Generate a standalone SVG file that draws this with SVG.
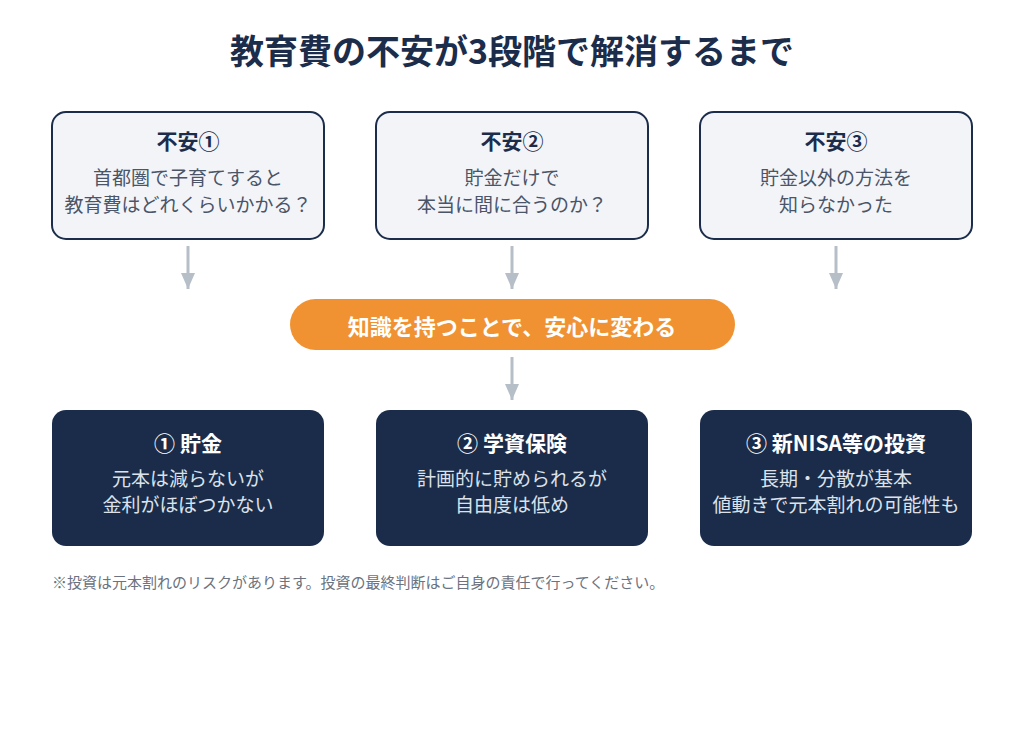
<svg xmlns="http://www.w3.org/2000/svg" width="1024" height="734" viewBox="0 0 1024 734">
<defs>
<style>
text{font-family:"Noto Sans CJK JP","Noto Sans",sans-serif;text-anchor:middle}
.title{font-size:34px;font-weight:700;fill:#1b2d4a}
.q{fill:#f3f4f8;stroke:#1b2d4a;stroke-width:2}
.qh{font-size:21px;font-weight:700;fill:#1b2d4a}
.qt{font-size:19px;fill:#4a5568}
.a{fill:#1a2c4a}
.ah{font-size:21px;font-weight:700;fill:#ffffff}
.at{font-size:19px;fill:#dde2ea}
.conn{stroke:#b6bec8;stroke-width:3;fill:none}
.note{font-size:15px;fill:#6b7280;text-anchor:start}
</style>
<marker id="ah" viewBox="0 0 16 14" refX="16" refY="7" markerWidth="16" markerHeight="14" markerUnits="userSpaceOnUse" orient="auto">
<path d="M0,0 L16,7 L0,14 z" fill="#b6bec8"/>
</marker>
</defs>
<rect width="1024" height="734" fill="#ffffff"/>
<text class="title" x="512" y="64">教育費の不安が3段階で解消するまで</text>

<g id="q1"><rect class="q" x="52" y="112" width="272" height="127" rx="14"/>
<text class="qh" x="188" y="149">不安①</text>
<text class="qt" x="188" y="185">首都圏で子育てすると<tspan x="188" dy="27">教育費はどれくらいかかる？</tspan></text></g>
<g id="q2"><rect class="q" x="376" y="112" width="272" height="127" rx="14"/>
<text class="qh" x="512" y="149">不安②</text>
<text class="qt" x="512" y="185">貯金だけで<tspan x="512" dy="27">本当に間に合うのか？</tspan></text></g>
<g id="q3"><rect class="q" x="700" y="112" width="272" height="127" rx="14"/>
<text class="qh" x="836" y="149">不安③</text>
<text class="qt" x="836" y="185">貯金以外の方法を<tspan x="836" dy="27">知らなかった</tspan></text></g>

<g id="connectors">
<line class="conn" x1="188" y1="246" x2="188" y2="289" marker-end="url(#ah)"/>
<line class="conn" x1="512" y1="246" x2="512" y2="289" marker-end="url(#ah)"/>
<line class="conn" x1="836" y1="246" x2="836" y2="289" marker-end="url(#ah)"/>
<line class="conn" x1="512" y1="357" x2="512" y2="400" marker-end="url(#ah)"/>
</g>

<g id="center"><rect x="290" y="299" width="445" height="51" rx="25.5" fill="#f09232"/>
<text x="512" y="335" style="font-size:22px;font-weight:700;fill:#ffffff">知識を持つことで、安心に変わる</text></g>

<g id="a1"><rect class="a" x="52" y="410" width="272" height="136" rx="14"/>
<text class="ah" x="188" y="451">① 貯金</text>
<text class="at" x="188" y="486">元本は減らないが<tspan x="188" dy="26">金利がほぼつかない</tspan></text></g>
<g id="a2"><rect class="a" x="376" y="410" width="272" height="136" rx="14"/>
<text class="ah" x="512" y="451">② 学資保険</text>
<text class="at" x="512" y="486">計画的に貯められるが<tspan x="512" dy="26">自由度は低め</tspan></text></g>
<g id="a3"><rect class="a" x="700" y="410" width="272" height="136" rx="14"/>
<text class="ah" x="836" y="451">③ 新NISA等の投資</text>
<text class="at" x="836" y="486">長期・分散が基本<tspan x="836" dy="26">値動きで元本割れの可能性も</tspan></text></g>

<text class="note" x="52" y="588">※投資は元本割れのリスクがあります。投資の最終判断はご自身の責任で行ってください。</text>
</svg>
